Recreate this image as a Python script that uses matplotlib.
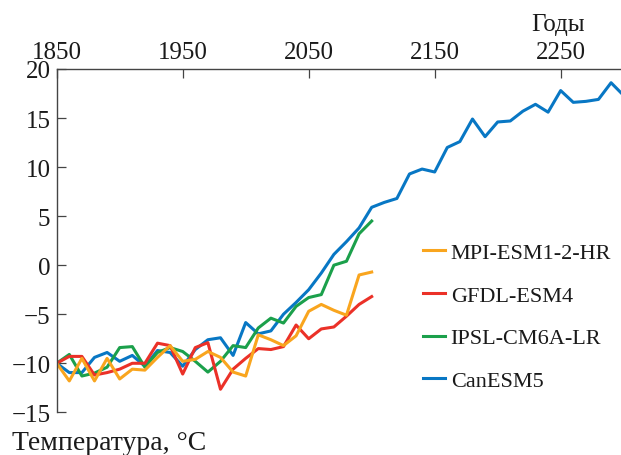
import numpy as np
import matplotlib
matplotlib.use("Agg")
import matplotlib.pyplot as plt

plt.rcParams['font.family'] = ['Liberation Serif', 'DejaVu Serif']

# decadal values
years_hist = np.arange(1850, 2101, 10)
years_ext = np.arange(1850, 2301, 10)

mpi = [-10.0, -11.8, -9.5, -11.8, -9.5, -11.6, -10.6, -10.7, -9.4, -8.2,
       -9.8, -9.6, -8.8, -9.4, -10.9, -11.3, -7.1, -7.6, -8.2, -7.2,
       -4.7, -4.0, -4.6, -5.1, -1.0, -0.7]
gfdl = [-10.0, -9.3, -9.3, -11.2, -10.95, -10.6, -10.0, -10.0, -7.95, -8.2,
        -11.1, -8.4, -7.9, -12.65, -10.6, -9.5, -8.5, -8.6, -8.3, -6.1,
        -7.5, -6.5, -6.3, -5.2, -4.0, -3.2]
ipsl = [-10.0, -9.1, -11.3, -11.0, -10.4, -8.4, -8.3, -10.4, -8.9, -8.4,
        -8.8, -9.8, -10.9, -9.8, -8.2, -8.4, -6.4, -5.4, -5.9, -4.2,
        -3.3, -3.0, 0.0, 0.4, 3.2, 4.5]
canesm = [-10.0, -10.95, -10.95, -9.4, -8.9, -9.8, -9.2, -10.3, -8.7, -8.9,
          -10.3, -8.6, -7.6, -7.4, -9.2, -5.85, -7.0, -6.7, -5.0, -3.8,
          -2.5, -0.8, 1.1, 2.4, 3.8, 5.9, 6.4, 6.8, 9.3, 9.8,
          9.5, 12.0, 12.6, 14.9, 13.1, 14.6, 14.7, 15.7, 16.4, 15.6,
          17.8, 16.6, 16.7, 16.9, 18.6, 17.3]

labels = ['MPI-ESM1-2-HR', 'GFDL-ESM4', 'IPSL-CM6A-LR', 'CanESM5']
colors = ['#F9A51E', '#EB3128', '#1BA04B', '#0877C4']

fig = plt.figure(figsize=(6.21, 4.56), dpi=100)
ax = fig.add_axes([0.0913, 0.0936, 0.913, 0.7529])

lw = 2.2
l_blue, = ax.plot(years_ext, canesm, color=colors[3], lw=lw)
l_green, = ax.plot(years_hist, ipsl, color=colors[2], lw=lw)
l_red, = ax.plot(years_hist, gfdl, color=colors[1], lw=lw)
l_orange, = ax.plot(years_hist, mpi, color=colors[0], lw=lw)

ax.set_xlim(1850, 2300)
ax.set_ylim(-15, 20)

ax.xaxis.tick_top()
ax.set_xticks([1850, 1950, 2050, 2150, 2250])
ax.set_yticks([20, 15, 10, 5, 0, -5, -10, -15])
ax.tick_params(axis='both', direction='in', length=6.5, width=0.9,
               color='#444444', labelsize=18, labelcolor='#1a1a1a')
ax.tick_params(axis='x', pad=4.0)
ax.tick_params(axis='y', pad=4.5)

for side in ['bottom', 'right']:
    ax.spines[side].set_visible(False)
for side in ['top', 'left']:
    ax.spines[side].set_color('#444444')
    ax.spines[side].set_linewidth(1.0)

fig.text(558 / 621, 0.932, 'Годы', ha='center', va='baseline',
         fontsize=18, color='#1a1a1a')
fig.text(12 / 621, 0.014, 'Температура, °C', ha='left', va='baseline',
         fontsize=20, color='#1a1a1a')

leg = ax.legend([l_orange, l_red, l_green, l_blue], labels,
                loc='center left', bbox_to_anchor=(0.681, 0.303),
                bbox_transform=fig.transFigure, frameon=False,
                fontsize=16, handlelength=1.0, handletextpad=0.25,
                labelspacing=1.0, borderpad=0, borderaxespad=0)
for t in leg.get_texts():
    t.set_color('#1a1a1a')

fig.savefig('out.png', dpi=100)
